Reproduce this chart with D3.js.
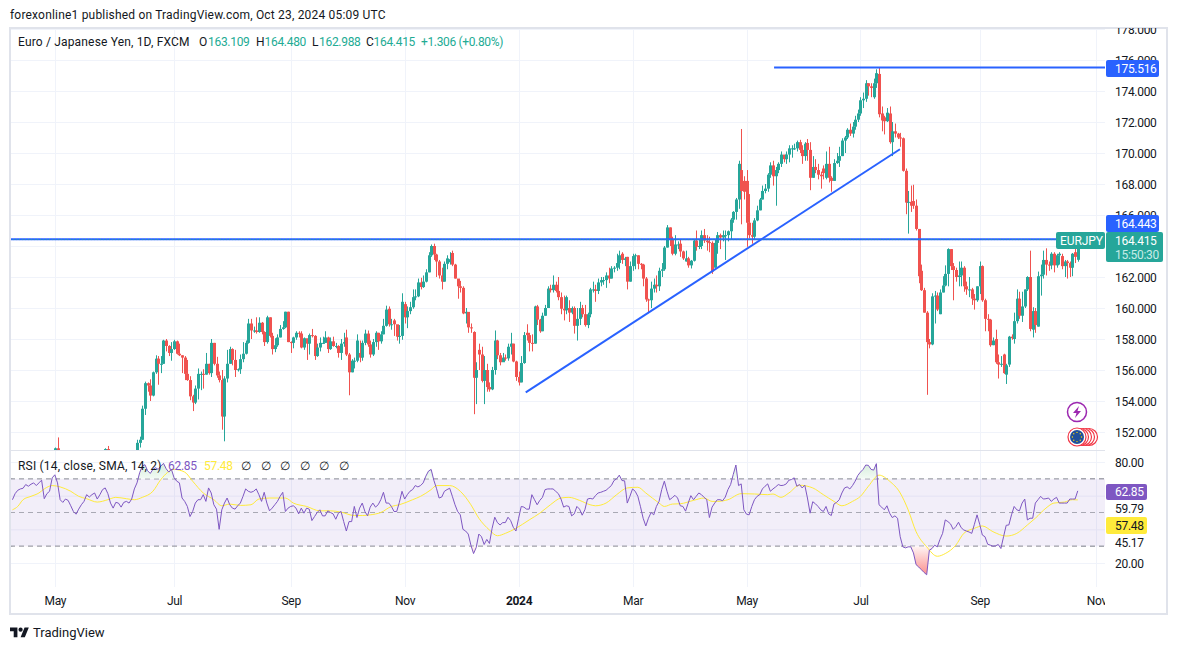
<!DOCTYPE html>
<html>
<head>
<meta charset="utf-8">
<title>EURJPY</title>
<style>
 html, body { margin: 0; background: #fff; }
 svg { display: block; }
 text { font-family: Roboto, sans-serif; fill: #131722; }
 .tick line { stroke: #f0f3fa; }
 .axis-label .tick text { font-size: 12px; fill: #131722; letter-spacing: -0.3px; }
</style>
</head>
<body>
<svg id="chart" width="1177" height="650"></svg>
<script src="https://d3js.org/d3.v7.min.js"></script>
<script>
// daily candles
const opens = [
145.5,145.6,145.3,145.8,146.2,146.5,146.9,147.3,147.6,147.2,
147.8,147.6,147.3,147.0,147.3,148.5,150.5,150.95,150.6,149.2,
148.0,147.6,148.2,148.9,149.2,149.4,149.8,149.9,150.2,150.1,
150.3,149.8,149.6,149.7,150.2,150.5,150.9,150.6,150.1,150.0,
149.6,149.9,150.3,150.4,150.2,150.6,150.5,150.7,151.3,151.5,
153.5,155.15,155.0,154.35,155.85,156.73,156.4,156.4,157.9,157.55,
157.1,157.35,157.85,157.05,156.95,156.8,155.75,155.35,154.3,153.9,
154.8,155.75,155.75,155.7,156.4,155.8,157.75,156.4,155.65,155.35,
153.0,155.45,156.4,157.35,156.65,156.0,156.05,156.7,157.05,157.75,
159.0,158.55,158.55,158.45,159.05,158.45,157.8,159.4,158.2,157.35,
157.6,158.1,158.65,158.75,159.76,157.8,157.75,158.1,158.4,158.35,
157.45,158.05,157.7,158.25,158.2,156.9,157.45,157.75,157.75,158.1,
157.35,157.85,157.55,157.55,157.1,157.7,158.1,157.0,155.85,156.6,
156.6,157.1,156.8,157.75,158.35,157.65,157.0,157.8,158.4,157.85,
158.3,158.85,159.95,158.95,159.2,158.95,158.15,158.2,160.25,159.4,
159.8,160.05,160.7,160.75,161.65,161.35,161.7,162.3,163.4,164.0,
163.45,163.0,162.1,161.7,162.85,162.95,163.55,162.8,161.9,161.4,
161.3,159.65,159.75,158.75,158.45,155.5,157.3,157.0,155.3,156.0,
154.9,154.75,156.0,157.9,156.95,156.5,156.8,156.75,157.5,157.7,
156.55,155.55,155.2,156.45,158.4,158.25,157.75,157.7,160.1,159.25,
158.5,159.5,160.0,161.25,161.15,161.5,161.1,160.7,159.95,159.85,
160.0,159.7,160.0,158.85,159.3,160.0,159.6,158.9,159.6,161.2,
161.2,161.1,161.65,161.8,161.8,162.1,161.9,162.55,162.6,162.9,
163.5,163.1,163.3,161.7,162.7,163.35,163.4,162.85,162.8,161.9,
160.55,160.5,161.25,161.5,161.4,162.4,162.5,163.9,165.2,164.4,
163.5,164.1,164.15,163.65,163.0,163.2,162.75,163.05,164.35,163.95,
164.0,164.7,164.35,164.25,164.2,162.6,164.2,164.7,164.55,164.7,
164.7,164.95,165.7,166.2,167.0,168.9,168.2,168.2,165.5,164.7,
164.6,165.65,166.3,167.0,167.55,167.7,168.6,169.2,168.5,168.9,
169.3,169.9,169.6,169.9,170.3,170.3,170.3,170.7,170.2,169.8,
170.65,170.2,168.4,169.1,168.9,168.6,169.0,168.4,169.3,168.4,
168.2,169.35,169.5,169.8,170.8,171.0,171.5,171.25,171.7,172.15,
172.55,173.4,173.5,174.5,174.3,173.6,174.5,175.1,172.55,172.3,
172.05,172.55,170.7,171.4,171.25,171.0,170.95,168.85,166.8,166.85,
166.9,166.6,165.1,162.4,161.15,159.7,157.8,157.65,160.75,160.8,
159.6,161.0,161.45,162.2,163.8,162.7,162.45,162.0,162.1,162.6,
161.4,161.2,161.2,160.6,160.5,161.4,162.7,160.5,159.3,159.25,
157.6,158.0,156.5,156.35,157.0,155.7,156.35,158.15,158.0,159.15,
160.6,159.5,160.1,161.2,162.0,158.6,159.8,158.8,162.05,162.15,
163.1,162.8,162.75,163.5,162.75,163.4,163.35,162.7,163.0,162.9,
162.6,163.6,163.109
];
const highs = [
146.0,145.9,146.1,146.5,146.8,147.2,147.6,147.9,147.8,148.1,
148.0,147.8,147.5,147.6,148.8,149.9,151.0,151.65,150.7,149.4,
148.3,148.5,149.2,149.5,149.7,150.1,150.2,150.5,150.4,150.6,
150.3,150.0,150.0,150.5,150.7,150.95,151.1,150.6,150.3,150.1,
150.2,150.6,150.7,150.6,150.8,150.8,150.8,151.5,151.7,153.7,
155.25,155.2,155.4,155.9,156.95,156.9,156.9,157.95,158.0,157.6,
157.8,157.95,157.9,157.7,156.95,156.9,156.65,155.6,154.4,155.0,
156.1,155.9,156.05,157.1,156.4,158.0,157.75,156.85,155.9,156.0,
155.6,157.3,157.5,157.4,157.3,156.1,157.0,157.8,157.9,159.3,
159.3,158.8,159.4,159.4,159.1,158.5,159.5,159.4,158.4,158.05,
158.3,158.9,159.15,159.76,159.76,157.85,158.15,158.5,158.5,158.5,
158.1,157.9,158.35,158.65,158.25,157.7,158.1,158.15,158.5,158.15,
158.1,158.15,157.75,157.6,158.0,158.4,158.6,157.1,156.7,156.8,
158.3,157.9,157.9,158.6,158.55,157.9,158.0,158.5,158.4,158.5,
159.3,160.15,160.1,159.3,159.3,158.7,158.9,160.95,160.4,160.1,
160.4,161.2,161.2,161.9,161.95,162.1,162.5,163.6,164.1,164.15,
163.5,163.1,162.6,163.0,163.4,163.6,163.7,162.85,161.8,161.75,
161.4,160.0,159.65,159.0,158.5,156.5,157.7,157.5,156.9,156.4,
155.2,156.2,158.55,157.95,157.1,157.1,157.0,157.7,158.4,157.7,
156.6,155.9,156.9,158.45,158.95,158.4,158.3,160.15,160.2,159.3,
159.7,160.2,161.4,161.5,162.1,161.7,162.0,161.0,160.8,160.8,
160.5,160.1,160.1,160.0,160.4,160.2,160.2,159.7,161.3,161.7,
161.5,161.9,162.0,162.0,162.3,162.6,162.7,162.7,163.5,163.7,
163.6,163.3,163.3,163.0,163.5,163.5,163.4,162.9,162.85,162.0,
160.6,161.7,161.9,162.1,162.6,162.9,164.0,165.35,165.2,164.6,
164.7,164.3,164.4,163.7,163.7,163.3,163.1,164.4,165.0,164.4,
165.0,165.1,164.7,164.6,164.3,164.4,164.9,164.8,165.0,165.0,
165.0,165.8,166.25,167.1,169.5,171.55,168.5,168.9,167.35,165.5,
165.8,166.6,167.1,167.9,168.0,168.7,169.4,169.5,169.1,169.4,
170.1,169.8,170.1,170.5,170.5,170.6,170.8,170.85,170.5,170.7,
170.9,170.7,169.8,169.6,169.3,168.8,169.2,170.1,170.4,168.5,
169.6,170.0,170.4,170.95,171.1,171.6,171.9,172.0,172.4,172.8,
173.6,173.9,174.7,174.5,174.5,174.8,175.4,175.5,173.0,172.4,
172.9,173.0,172.0,171.9,171.3,171.3,171.0,169.0,167.55,167.9,
167.95,167.0,165.1,162.8,161.3,159.8,158.0,160.95,161.1,161.0,
161.2,162.05,162.75,163.85,163.8,162.9,162.6,163.0,163.0,162.7,
161.7,162.0,161.3,160.9,161.4,163.0,162.75,160.6,159.6,159.3,
158.1,158.6,157.0,156.9,157.05,156.4,158.2,158.3,159.7,161.2,
161.05,161.05,161.2,162.05,163.7,160.05,160.0,162.35,162.8,163.7,
163.85,163.0,163.6,163.6,163.5,163.6,163.5,163.1,163.1,163.0,
163.55,164.0,164.48
];
const lows = [
145.2,145.0,145.2,145.7,146.1,146.4,146.8,147.1,146.9,147.1,
147.2,147.0,146.7,146.8,147.2,148.4,150.3,150.4,149.0,147.8,
147.3,147.5,148.1,148.8,149.0,149.3,149.6,149.8,149.8,149.9,
149.5,149.3,149.3,149.6,150.1,150.4,150.5,149.9,149.7,149.3,
149.5,149.8,150.1,149.9,150.1,150.2,150.2,150.6,151.0,151.5,
153.1,154.6,154.0,154.3,155.75,155.05,155.8,156.4,157.2,156.9,
156.6,157.3,157.0,156.9,155.8,155.35,155.3,154.05,153.35,153.8,
154.1,154.7,154.8,155.7,155.7,155.55,156.3,155.5,155.2,152.15,
151.4,155.2,156.4,156.3,155.55,155.9,155.75,156.5,157.0,157.7,
158.0,158.4,158.35,158.4,158.3,157.55,157.7,158.1,157.0,157.15,
157.5,158.1,158.6,158.7,157.8,157.1,157.4,157.95,158.1,157.4,
157.3,156.65,157.0,158.1,156.65,156.85,157.2,157.7,157.75,157.1,
157.3,157.5,157.4,156.8,156.65,157.5,156.9,154.37,155.85,156.1,
156.5,156.5,156.6,157.6,157.5,156.8,156.9,157.5,157.3,157.7,
158.3,158.8,158.8,158.6,158.2,157.9,157.7,157.95,159.0,158.7,
159.6,159.95,160.5,160.7,161.2,161.3,161.65,162.3,163.3,163.1,
162.0,161.9,161.2,161.7,162.5,162.8,162.7,161.9,160.6,161.0,
159.6,159.0,158.4,158.4,153.15,153.8,156.0,155.2,153.8,154.6,
154.6,154.7,155.7,156.7,156.3,156.6,156.6,156.6,157.0,156.5,
155.3,155.0,155.2,156.4,157.9,157.2,157.2,157.7,158.9,158.4,
158.5,159.5,160.0,161.0,161.0,161.0,160.5,159.6,159.2,159.6,
159.1,159.6,158.35,157.9,158.9,159.4,158.8,158.7,159.4,161.0,
160.4,160.9,161.4,161.5,161.3,161.6,161.9,162.3,162.4,162.5,
162.85,162.7,161.2,161.7,162.4,162.5,162.5,162.5,161.4,160.4,
159.7,160.0,161.0,161.0,161.1,162.0,162.4,163.9,164.0,163.4,
163.4,163.8,163.3,163.1,163.0,162.6,162.55,163.0,163.7,163.8,
163.8,164.2,163.7,163.6,162.2,162.6,163.5,163.8,164.3,163.1,
164.3,164.4,165.5,165.7,166.4,165.4,167.0,163.95,164.5,164.15,
164.4,165.6,166.3,167.0,167.4,167.5,168.4,167.9,166.6,168.7,
169.1,169.4,169.3,169.4,169.7,170.2,170.1,170.0,169.3,169.5,
169.5,167.6,168.4,168.7,168.3,167.7,168.3,168.3,168.1,167.5,
168.2,169.3,169.1,169.8,170.0,170.9,171.1,171.0,171.5,172.0,
172.4,172.9,173.3,173.7,173.6,173.5,174.2,172.3,171.4,171.2,
172.0,170.6,169.8,171.0,170.9,170.4,168.8,166.05,164.8,166.2,
166.4,165.0,161.6,161.1,159.7,154.4,157.4,157.6,159.0,159.8,
159.6,161.0,161.4,161.4,162.45,160.5,161.7,161.4,161.4,161.05,
160.85,160.7,160.2,159.9,160.4,160.9,160.4,158.5,158.5,157.5,
157.6,156.4,155.45,156.2,155.75,155.1,156.2,157.95,157.7,159.0,
159.3,159.1,160.0,161.1,158.5,158.1,158.4,158.8,160.8,161.9,
162.1,162.4,162.5,162.3,162.6,162.8,162.5,162.0,161.9,162.0,
162.05,162.9,162.988
];
const closes = [
145.6,145.3,145.8,146.2,146.5,146.9,147.3,147.6,147.2,147.8,
147.6,147.3,147.0,147.3,148.5,149.6,150.95,150.6,149.2,148.0,
147.6,148.2,148.9,149.2,149.4,149.8,149.9,150.2,150.1,150.3,
149.8,149.6,149.7,150.2,150.5,150.9,150.6,150.1,150.0,149.6,
149.9,150.3,150.4,150.2,150.6,150.5,150.6,151.3,151.5,153.5,
155.15,155.0,154.35,155.85,156.73,156.4,156.4,157.9,157.55,157.1,
157.35,157.85,157.05,156.95,156.8,155.75,155.35,154.3,153.9,154.8,
155.75,155.75,155.7,156.4,155.8,157.75,156.4,155.65,155.35,153.0,
155.45,156.4,157.35,156.65,156.0,156.05,156.7,157.05,157.75,159.0,
158.55,158.55,158.45,159.05,158.45,157.8,159.4,158.2,157.35,157.6,
158.1,158.65,158.75,159.76,157.8,157.75,158.1,158.4,158.35,157.45,
158.05,157.7,158.25,158.2,156.9,157.45,157.75,157.75,158.1,157.35,
157.85,157.55,157.55,157.1,157.7,157.8,157.0,155.85,156.6,156.6,
157.9,156.8,157.75,158.35,157.65,157.0,157.8,158.4,157.85,158.3,
158.85,159.9,158.95,158.95,158.95,158.15,158.2,160.4,159.4,159.8,
160.05,160.7,160.75,161.65,161.35,161.7,162.3,163.4,164.0,163.45,
163.0,162.1,161.7,162.85,163.2,163.15,162.8,161.9,161.4,161.3,
159.65,159.75,158.75,158.7,155.5,156.0,157.0,155.3,156.0,154.9,
154.75,156.0,157.9,156.95,156.5,156.8,156.75,157.5,157.7,156.55,
155.55,155.2,156.45,158.25,158.25,157.75,157.7,160.1,159.25,158.5,
159.5,160.0,161.25,161.15,161.5,161.1,160.7,159.95,159.85,160.7,
159.7,160.0,158.85,159.3,160.0,159.6,158.9,159.6,161.2,161.2,
161.1,161.65,161.8,161.8,162.1,161.9,162.55,162.6,162.9,163.4,
163.1,163.2,161.7,162.7,163.35,163.4,162.85,162.8,161.9,160.55,
160.5,161.25,161.5,161.4,162.4,162.5,163.9,165.2,164.4,163.5,
164.1,164.1,163.65,163.2,163.2,162.75,163.05,164.35,163.95,164.0,
164.7,164.35,164.25,164.2,162.35,164.2,164.7,164.55,164.7,164.7,
164.95,165.7,166.2,167.0,169.3,167.55,167.5,165.5,164.7,164.6,
165.65,166.3,167.0,167.55,167.7,168.6,169.2,168.5,168.9,169.3,
169.9,169.6,169.9,170.3,170.3,170.3,170.7,170.2,169.8,170.6,
170.2,168.4,169.1,168.9,168.6,168.5,168.7,169.3,168.4,168.2,
169.35,169.5,169.8,170.8,171.0,171.5,171.25,171.7,172.15,172.55,
173.4,173.5,174.5,174.3,174.2,174.5,175.15,172.5,172.1,172.05,
172.6,170.7,171.4,171.25,171.0,170.95,168.85,166.8,166.85,166.6,
166.6,165.1,162.05,161.15,159.7,157.8,157.65,160.75,160.8,159.9,
161.0,161.45,162.2,163.8,162.7,162.45,162.0,162.1,162.6,161.4,
161.2,161.2,160.6,160.5,161.4,162.7,160.5,159.3,159.25,157.6,
157.9,156.5,156.35,156.4,155.8,156.3,158.15,158.05,159.15,160.6,
159.5,160.1,161.2,162.0,158.65,159.8,158.9,162.05,162.15,163.1,
162.8,162.75,163.5,162.75,163.4,163.5,162.7,163.0,162.9,162.6,
163.5,163.3,164.415
];
// RSI, one value per bar
const rsiValues = [
57.6,61.2,63.2,64,64.4,66.6,65.6,66.8,67.6,66,
67.6,69.2,58.2,61.2,62.6,70.6,72.4,67.6,57.6,56,
58,57.2,54,50.6,49,52,54.6,56.6,60.6,59.2,
60.6,61.6,58,60.6,63.6,64.6,61.2,55.6,52.6,56,
55.6,53.2,56,56.6,55.6,58,64,67.6,73.6,77.6,
78.4,74.8,73.2,75.6,76.6,75.6,77.6,79.2,76,74,
75.6,70.6,68.6,67.6,58.6,56.6,53.6,47.6,50.6,55.6,
57.6,57.6,60.6,56.6,64.6,61.6,54.6,52,40,51.6,
55.6,58.6,54.6,52.6,52,54,55.6,59.6,64,62.6,
62,62.6,64,60.6,56.6,62,55.6,51,52.6,54.6,
56.6,59.6,62,50.6,52.6,53.6,54,52.6,49.2,52.6,
49.6,52.6,52,45.2,47.6,50,51.6,48,48,51,
50,49.2,46,49.6,50.6,44.6,39,44.6,44.6,53.6,
47,52.6,55.6,50.6,48,53.2,55.6,53.2,54.6,57.6,
62,55.6,55.6,53.6,50.6,50.6,56,62.6,58,60.6,
62.6,63.6,66,65.2,66,67.6,71.6,74.6,75.6,69.2,
64.4,58.6,59.2,62.6,63.6,64.4,59.6,54.6,50.6,48.6,
40,39,37.2,30.6,25.6,29.2,37.2,35.6,31,34,
31.6,40.6,47.2,44,42.6,44,44,47.2,45.2,41.2,
39,46.6,53.6,53.2,52,52,60.6,57.6,54.6,57.2,
59,63.6,64,64,64,62.6,61.2,58,53.2,54,
53.6,48,49.2,53.6,52,48.4,51.6,58,58.4,58,
60,61.6,62,62.6,63.2,64.6,66,69,70,72.2,
69,68.8,55.6,59.6,64,62.6,59.6,53.4,46.6,42,
46.6,50,48.6,53.6,56.6,63.6,68.6,62.6,57.6,58.8,
60.2,58.6,54,53.6,50.8,55.6,60,57.6,59.6,61.6,
60.6,59,57.6,47,53.2,55.6,57.6,57.6,57,59.2,
63.6,66.6,72.6,78.2,66,67,51.6,49,48.6,53.6,
57.6,59.6,60.6,64,65.6,67,62.6,64,65.2,66.6,
66,66.2,67,69.2,69.6,70.6,65.6,66.6,64.6,66.2,
58.6,49.6,56.4,55.2,53.6,51.6,50.6,53.6,49.2,48.2,
55,56,57.6,61.6,64.6,65.2,64,66,68.6,72,
74,75.6,78.2,78,75.6,75.2,79,54.6,53.2,51.6,
54,49.6,47,48,46.6,35.6,29.6,29,29.6,29.6,
26,19,17.6,16,14.4,13,27.6,28.6,30.6,29.6,
34,37.6,45.6,44.6,43.2,40,41.6,44.2,41,39.6,
39,38.4,37.6,43,48.6,43,36.6,35.6,31.2,30.6,
30,30.2,31,28.6,35.6,42.4,42.6,48.6,53.6,51.6,
51,55.6,58,45.6,46.6,46.6,55.6,57.6,59.6,58,
58.2,58.6,56.6,58,59,55.6,55.6,55.6,55.6,58,
58,58,62.85
];
// RSI moving average, read at the bars where the curve bends
const rsiMaBars = [
0,2,4,7,10,12,15,18,22,25,28,32,36,39,43,46,49,53,56,61,65,68,72,76,79,82,86,90,93,97,
103,106,111,116,120,124,129,132,135,139,143,146,151,154,158,160,165,169,173,176,180,183,186,190,195,199,203,207,210,214,
218,220,224,228,232,236,239,244,246,249,252,257,261,264,266,270,275,280,285,287,290,293,297,302,306,310,313,317,320,323,
327,331,335,338,341,345,349,352,356,359,363,366,370,375,379,383,386,390,393,397,400,402
];
const rsiMaValues = [
51.6,53.6,57.6,59.6,61.6,64,66,65.2,62.6,59.6,58.2,56.2,57.6,59,58.2,57.6,59,62.6,69.6,75.6,74,68.6,61.6,57.6,54,55,54.2,54.6,58,58.6,
58.6,55.6,53.6,51,51,50.2,48.2,48.2,48.6,50,53.6,54.6,57.6,59.6,63.6,66,66,62.6,54.6,46.6,39.6,36.2,37.6,40.6,45.6,49.6,54.6,58.6,59,57.2,
54.6,54,55.6,60.6,64.6,65,61.6,55.6,53.6,55,55.2,57.2,58.6,56.6,56.6,57.6,61.2,61,60.6,61,59,61.6,66.2,64.6,60.6,56.6,54,56.6,59.6,65.6,
72.2,68.6,61.6,51.6,38.6,29.6,24,25.6,30.6,37.6,40.6,42,38.6,36,37.6,42.6,46.6,52.6,55.6,56.2,57.6,57.48
];
const priceTicks = [152,154,156,158,160,162,164,166,168,170,172,174,176,178];
const rsiTicks = [20,40,60,80];
const monthBars = [16,61,105,148,191,234,277,320,365,409];
const monthLabels = ["May","Jul","Sep","Nov","2024","Mar","May","Jul","Sep","Nov"];

const width = 1177, height = 650;
const paneLeft = 10, paneRight = 1105, priceTop = 29, priceBottom = 450, rsiTop = 451, rsiBottom = 587;
const teal = "#26a69a", red = "#f0524f", blue = "#2962ff", purple = "#7e57c2", yellow = "#ffeb3b";

const svg = d3.select("#chart");

const x = d3.scaleLinear().domain([0, 402]).range([12.45, 1077.75]);
const y = d3.scaleLinear().domain([152, 176]).range([432, 60]);
const yRsi = d3.scaleLinear().domain([20, 80]).range([563, 462]);

const defs = svg.append("defs");
defs.append("clipPath").attr("id", "clip-price").append("rect")
    .attr("x", paneLeft).attr("y", priceTop).attr("width", paneRight - paneLeft).attr("height", priceBottom - priceTop);
defs.append("clipPath").attr("id", "clip-rsi").append("rect")
    .attr("x", paneLeft).attr("y", rsiTop).attr("width", paneRight - paneLeft).attr("height", rsiBottom - rsiTop);
defs.append("clipPath").attr("id", "clip-over").append("rect")
    .attr("x", paneLeft).attr("y", rsiTop).attr("width", paneRight - paneLeft).attr("height", yRsi(70) - rsiTop);
defs.append("clipPath").attr("id", "clip-under").append("rect")
    .attr("x", paneLeft).attr("y", yRsi(30)).attr("width", paneRight - paneLeft).attr("height", rsiBottom - yRsi(30));
defs.append("clipPath").attr("id", "clip-time").append("rect")
    .attr("x", paneLeft).attr("y", rsiBottom).attr("width", paneRight - paneLeft).attr("height", 26);
// the top price label is cut by the frame in the reference
defs.append("clipPath").attr("id", "clip-scale").append("rect")
    .attr("x", 1106).attr("y", priceTop - 1).attr("width", 60).attr("height", priceBottom - priceTop + 1);

const overGrad = defs.append("linearGradient").attr("id", "grad-over").attr("gradientUnits", "userSpaceOnUse")
    .attr("x1", 0).attr("x2", 0).attr("y1", yRsi(80)).attr("y2", yRsi(70));
overGrad.append("stop").attr("offset", 0).attr("stop-color", "#d3ecd9");
overGrad.append("stop").attr("offset", 1).attr("stop-color", "#f3faf5");
const underGrad = defs.append("linearGradient").attr("id", "grad-under").attr("gradientUnits", "userSpaceOnUse")
    .attr("x1", 0).attr("x2", 0).attr("y1", yRsi(30)).attr("y2", yRsi(13));
underGrad.append("stop").attr("offset", 0).attr("stop-color", "#fff5f5");
underGrad.append("stop").attr("offset", 1).attr("stop-color", "#fb8f8d");

// grid
const grid = svg.append("g");
grid.append("g").attr("transform", `translate(${paneRight},0)`)
    .call(d3.axisLeft(y).tickValues(priceTicks).tickFormat(""))
    .call(g => g.select(".domain").remove())
    .call(g => g.selectAll("line").attr("x1", 0).attr("x2", -(paneRight - paneLeft)).attr("stroke", "#f0f3fa"));
grid.append("g").attr("transform", `translate(${paneRight},0)`)
    .call(d3.axisLeft(yRsi).tickValues(rsiTicks).tickFormat(""))
    .call(g => g.select(".domain").remove())
    .call(g => g.selectAll("line").attr("x1", 0).attr("x2", -(paneRight - paneLeft)).attr("stroke", "#f0f3fa"));
grid.selectAll("line.month").data(monthBars).join("line").attr("class", "month")
    .attr("x1", d => Math.round(x(d)) + 0.5).attr("x2", d => Math.round(x(d)) + 0.5)
    .attr("y1", priceTop).attr("y2", rsiBottom)
    .attr("stroke", "#f0f3fa");

// candles
const candles = svg.append("g").attr("clip-path", "url(#clip-price)");
const bars = d3.range(closes.length);
const color = i => closes[i] >= opens[i] ? teal : red;
candles.selectAll("rect.wick").data(bars).join("rect").attr("class", "wick")
    .attr("x", i => Math.round(x(i)))
    .attr("width", 1)
    .attr("y", i => y(highs[i]))
    .attr("height", i => y(lows[i]) - y(highs[i]))
    .attr("fill", color);
candles.selectAll("rect.body").data(bars).join("rect").attr("class", "body")
    .attr("x", i => Math.round(x(i)) - 1)
    .attr("width", 3)
    .attr("y", i => y(Math.max(opens[i], closes[i])))
    .attr("height", i => Math.max(1, Math.abs(y(opens[i]) - y(closes[i]))))
    .attr("fill", color);

// drawings on the price pane
const drawings = svg.append("g").attr("clip-path", "url(#clip-price)");
const level = 164.443, peak = 175.516, last = 164.415;
drawings.append("line").attr("x1", paneLeft).attr("x2", paneRight)
    .attr("y1", y(level)).attr("y2", y(level)).attr("stroke", blue).attr("stroke-width", 2);
drawings.append("line").attr("x1", paneLeft).attr("x2", paneRight)
    .attr("y1", y(last)).attr("y2", y(last)).attr("stroke", teal).attr("stroke-dasharray", "1,2");
drawings.append("line").attr("x1", x(287.4)).attr("x2", paneRight)
    .attr("y1", y(peak)).attr("y2", y(peak)).attr("stroke", blue).attr("stroke-width", 2);
drawings.append("line").attr("x1", x(193.7)).attr("x2", x(334.9))
    .attr("y1", y(154.56)).attr("y2", y(170.24)).attr("stroke", blue).attr("stroke-width", 2);

// RSI pane
const rsiG = svg.append("g").attr("clip-path", "url(#clip-rsi)");
rsiG.append("rect").attr("x", paneLeft).attr("width", paneRight - paneLeft)
    .attr("y", yRsi(70)).attr("height", yRsi(30) - yRsi(70))
    .attr("fill", purple).attr("fill-opacity", 0.1);
[[70, "#787b86", 1], [30, "#787b86", 1], [50, "#787b86", 0.6]].forEach(([v, c, o]) => {
    rsiG.append("line").attr("x1", paneLeft).attr("x2", paneRight)
        .attr("y1", yRsi(v)).attr("y2", yRsi(v))
        .attr("stroke", c).attr("stroke-opacity", o).attr("stroke-dasharray", "5,4");
});
rsiG.append("path").datum(rsiValues)
    .attr("clip-path", "url(#clip-over)")
    .attr("d", d3.area().x((d, i) => x(i)).y0(yRsi(70)).y1(d => yRsi(d)))
    .attr("fill", "url(#grad-over)");
rsiG.append("path").datum(rsiValues)
    .attr("clip-path", "url(#clip-under)")
    .attr("d", d3.area().x((d, i) => x(i)).y0(yRsi(30)).y1(d => yRsi(d)))
    .attr("fill", "url(#grad-under)");
rsiG.append("path").datum(rsiMaValues)
    .attr("d", d3.line().curve(d3.curveMonotoneX).x((d, i) => x(rsiMaBars[i])).y(d => yRsi(d)))
    .attr("fill", "none").attr("stroke", yellow).attr("stroke-width", 1);
rsiG.append("path").datum(rsiValues)
    .attr("d", d3.line().x((d, i) => x(i)).y(d => yRsi(d)))
    .attr("fill", "none").attr("stroke", purple).attr("stroke-width", 1);

// frame
svg.append("rect").attr("x", 10).attr("y", 28).attr("width", 1157).attr("height", 586)
    .attr("fill", "none").attr("stroke", "#e0e3eb").attr("stroke-width", 2);
svg.append("line").attr("x1", paneLeft).attr("x2", paneRight).attr("y1", 450.5).attr("y2", 450.5)
    .attr("stroke", "#e0e3eb");

// axes
svg.append("g").attr("clip-path", "url(#clip-scale)").append("g")
    .attr("class", "axis-label").attr("transform", "translate(1115,1)")
    .call(d3.axisRight(y).tickValues(priceTicks).tickSize(0).tickPadding(0).tickFormat(d3.format(".3f")))
    .call(g => g.select(".domain").remove());
svg.append("g").attr("class", "axis-label").attr("transform", "translate(1115,1)")
    .call(d3.axisRight(yRsi).tickValues([20, 80]).tickSize(0).tickPadding(0).tickFormat(d3.format(".2f")))
    .call(g => g.select(".domain").remove());
svg.append("g").attr("class", "axis-label").attr("clip-path", "url(#clip-time)")
    .append("g").attr("transform", `translate(0,${rsiBottom + 9})`)
    .call(d3.axisBottom(x).tickValues(monthBars).tickSize(0).tickPadding(0).tickFormat((d, i) => monthLabels[i]))
    .call(g => g.select(".domain").remove())
    .call(g => g.selectAll("text").attr("font-weight", (d, i) => monthLabels[i] == "2024" ? "bold" : null));

function label(s, px, py, size, fill, spacing) {
    return svg.append("text").text(s).attr("x", px).attr("y", py)
        .style("font-size", size + "px").style("fill", fill)
        .style("letter-spacing", (spacing || 0) + "px");
}
function tag(px, py, w, h, fill) {
    return svg.append("rect").attr("x", px).attr("y", py).attr("width", w).attr("height", h).attr("rx", 2).attr("fill", fill);
}

// price tags
tag(1106, 60, 53, 17, blue);
label("175.516", 1115, 73, 12, "#fff", -0.3);
tag(1106, 215, 53, 17, blue);
label("164.443", 1115, 228, 12, "#fff", -0.3);
tag(1056, 232, 49, 17, teal);
label("EURJPY", 1060, 245, 12, "#fff", -0.1);
tag(1106, 232, 57, 30, teal);
label("164.415", 1115, 245, 12, "#fff", -0.3);
label("15:50:30", 1115, 259, 12, "#c8ebe6", -0.3);

tag(1106, 484, 41, 16, purple);
label("62.85", 1115, 496, 12, "#fff", -0.3);
label("59.79", 1115, 513, 12, "#131722", -0.3);
tag(1106, 517, 41, 17, yellow);
label("57.48", 1115, 530, 12, "#131722", -0.3);
label("45.17", 1115, 547, 12, "#131722", -0.3);

// header and legends
label("forexonline1 published on TradingView.com, Oct 23, 2024 05:09 UTC", 10, 19, 12, "#131722", 0.19);
label("Euro / Japanese Yen, 1D, FXCM", 18, 46, 12, "#131722", 0.17);
const legendGreen = "#22ab94";
[["O", 199, "163.109", 208], ["H", 256, "164.480", 264.5], ["L", 312, "162.988", 319], ["C", 366, "164.415", 373.5]]
    .forEach(([k, kx, v, vx]) => {
        label(k, kx, 46, 12, "#131722");
        label(v, vx, 46, 12, legendGreen, -0.3);
    });
label("+1.306 (+0.80%)", 421, 46, 12, legendGreen, -0.35);

label("RSI (14, close, SMA, 14, 2)", 18, 470, 12, "#131722", 0.2);
label("62.85", 168, 470, 12, purple, -0.3);
label("57.48", 204, 470, 12, yellow, -0.3);
[245, 264.5, 284, 304, 323, 343].forEach(px => label("∅", px - 4, 470, 12, "#131722"));

// event markers
const lightning = svg.append("g").attr("transform", "translate(1077,412)");
lightning.append("circle").attr("r", 9.5).attr("fill", "#fff").attr("stroke", "#9c27b0").attr("stroke-width", 1.5);
lightning.append("path").attr("d", "M2,-6 L-4,1 L-0.5,1 L-2,6 L4,-1 L0.5,-1 Z").attr("fill", "#9c27b0");
const earnings = svg.append("g").attr("transform", "translate(1077,437)");
[12, 9, 6, 3].forEach(dx => {
    earnings.append("circle").attr("cx", dx).attr("r", 8.5).attr("fill", "#fff").attr("stroke", "#f23645").attr("stroke-width", 1.2);
});
earnings.append("circle").attr("r", 9).attr("fill", "#fff").attr("stroke", "#f23645").attr("stroke-width", 1.2);
earnings.append("circle").attr("r", 7).attr("fill", "#1f4f9c");
d3.range(8).forEach(k => {
    const a = k / 8 * 2 * Math.PI;
    earnings.append("circle").attr("cx", 4.6 * Math.cos(a)).attr("cy", 4.6 * Math.sin(a)).attr("r", 0.7).attr("fill", "#ffd600");
});

// TradingView logo
const logo = svg.append("g").attr("transform", "translate(10,625.5) scale(0.53)");
logo.append("path").attr("d", "M14 22H7V11H0V4h14v18zM28 22h-8l7.5-18h8L28 22z").attr("fill", "#131722");
logo.append("circle").attr("cx", 20).attr("cy", 8).attr("r", 4).attr("fill", "#131722");
label("TradingView", 33, 637, 13, "#131722");
</script>
</body>
</html>
